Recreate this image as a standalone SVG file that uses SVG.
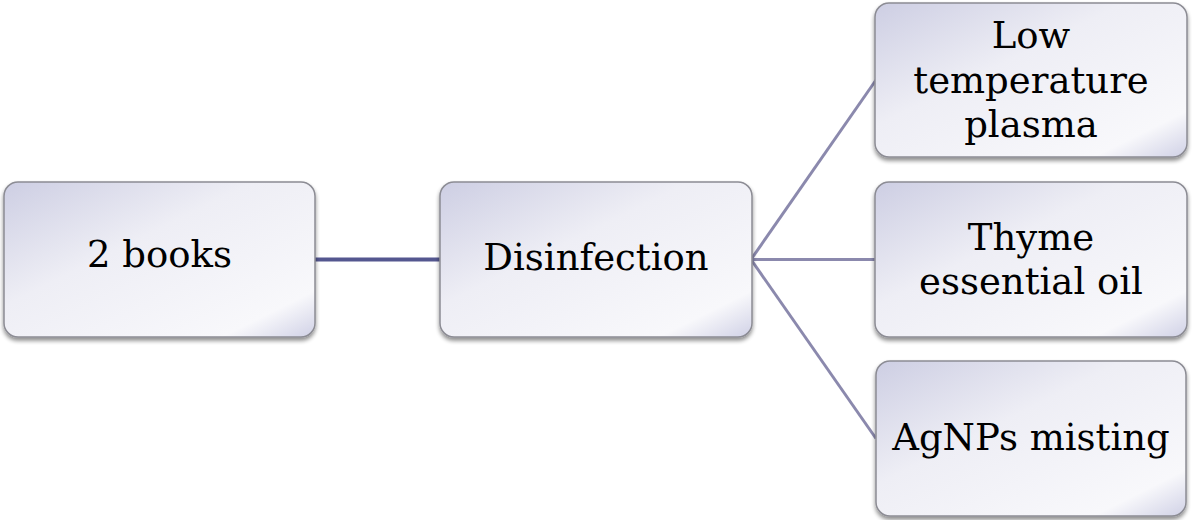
<svg xmlns="http://www.w3.org/2000/svg" width="1192" height="520" viewBox="0 0 1192 520">
<defs>
<linearGradient id="g" x1="0" y1="0" x2="1" y2="1">
<stop offset="0" stop-color="#cdcee3"/>
<stop offset="0.4" stop-color="#eeeef5"/>
<stop offset="0.85" stop-color="#f8f8fb"/>
<stop offset="1" stop-color="#d0d1e6"/>
</linearGradient>
<filter id="sh" x="-5%" y="-5%" width="110%" height="115%">
<feGaussianBlur in="SourceAlpha" stdDeviation="2"/>
<feOffset dx="0" dy="3" result="b"/>
<feComponentTransfer><feFuncA type="linear" slope="0.45"/></feComponentTransfer>
<feMerge><feMergeNode/><feMergeNode in="SourceGraphic"/></feMerge>
</filter>
</defs>
<style>
.box{fill:url(#g);stroke:#8c8c94;stroke-width:1.5;filter:url(#sh)}
.t{font-family:"DejaVu Serif","Liberation Serif",serif;font-size:37px;fill:#000;text-anchor:middle}
.c1{stroke:#54578f;stroke-width:4;fill:none}
.c2{stroke:#8b89ad;stroke-width:3;fill:none}
</style>
<g id="connectors">
<line class="c1" x1="315" y1="259.5" x2="440" y2="259.5"/>
<line class="c2" x1="751" y1="259.5" x2="876" y2="80"/>
<line class="c2" x1="751" y1="259.5" x2="876" y2="259.5"/>
<line class="c2" x1="751" y1="259.5" x2="876" y2="438.5"/>
</g>
<g id="n1">
<rect class="box" x="4" y="182" width="311" height="155" rx="14"/>
<text class="t" x="159.5" y="267">2 books</text>
</g>
<g id="n2">
<rect class="box" x="440" y="182" width="312" height="155" rx="14"/>
<text class="t" x="596" y="269.5">Disinfection</text>
</g>
<g id="n3">
<rect class="box" x="875" y="3" width="312" height="154" rx="14"/>
<text class="t" x="1031" y="48"><tspan x="1031">Low</tspan><tspan x="1031" dy="44.5">temperature</tspan><tspan x="1031" dy="44">plasma</tspan></text>
</g>
<g id="n4">
<rect class="box" x="875" y="182" width="312" height="155" rx="14"/>
<text class="t" x="1031" y="250"><tspan x="1031">Thyme</tspan><tspan x="1031" dy="44">essential oil</tspan></text>
</g>
<g id="n5">
<rect class="box" x="876" y="361" width="310" height="155" rx="14"/>
<text class="t" x="1031" y="450">AgNPs misting</text>
</g>
</svg>
